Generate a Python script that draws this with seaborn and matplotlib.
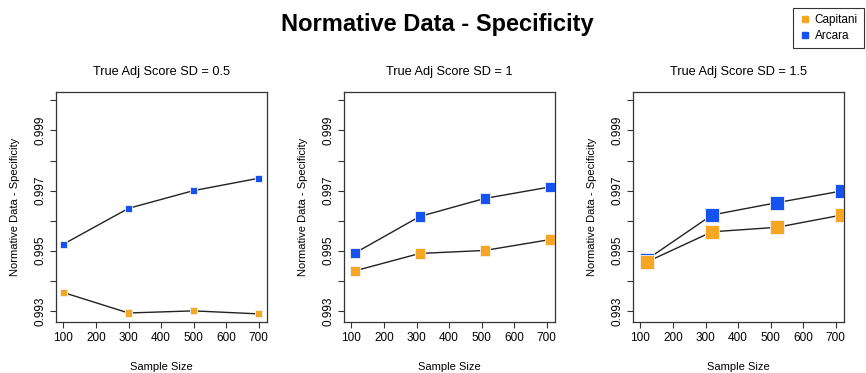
import matplotlib
matplotlib.use("Agg")
import matplotlib.pyplot as plt
import seaborn as sns
import pandas as pd
import numpy as np
from matplotlib.lines import Line2D

sns.set_theme(style="ticks")
plt.rcParams['font.family'] = ['Liberation Sans', 'DejaVu Sans']
plt.rcParams['text.color'] = 'black'
plt.rcParams['axes.labelcolor'] = 'black'
plt.rcParams['xtick.labelcolor'] = 'black'
plt.rcParams['ytick.labelcolor'] = 'black'

panel_titles = ["True Adj Score SD = 0.5", "True Adj Score SD = 1", "True Adj Score SD = 1.5"]
sample_sizes = [100, 300, 500, 700]
x_offsets = [0, 10, 20]
marker_sizes = [26, 55, 100]

capitani = [
    [0.99361, 0.99293, 0.99300, 0.99290],
    [0.99433, 0.99491, 0.99501, 0.99537],
    [0.99463, 0.99563, 0.99578, 0.99619],
]
arcara = [
    [0.99522, 0.99641, 0.99700, 0.99741],
    [0.99492, 0.99614, 0.99674, 0.99712],
    [0.99471, 0.99619, 0.99660, 0.99699],
]
series_names = ["Capitani", "Arcara"]
colors = {"Capitani": "#F5A623", "Arcara": "#1652F0"}

fig = plt.figure(figsize=(8.66, 3.73), dpi=100)
lefts = [56, 344, 633]
W, H = 866, 373
for i in range(3):
    ax = fig.add_axes([lefts[i] / W, (H - 322) / H, 211 / W, 230 / H])
    xs = [s + x_offsets[i] for s in sample_sizes]
    df = pd.DataFrame({
        "x": xs * 2,
        "y": arcara[i] + capitani[i],
        "series": ["Arcara"] * 4 + ["Capitani"] * 4,
    })
    for name in ["Arcara", "Capitani"]:
        sub = df[df.series == name]
        sns.lineplot(data=sub, x="x", y="y", ax=ax, color="#222222", lw=1.0,
                     estimator=None, sort=False, legend=False, zorder=1)
    sns.scatterplot(data=df, x="x", y="y", hue="series", palette=colors, marker="s",
                    s=marker_sizes[i], edgecolor="#f3f3f3", linewidth=0.6, ax=ax,
                    legend=False, zorder=3)
    ax.set_xlim(77, 726)
    ax.set_ylim(0.99263, 1.00028)
    ax.set_xticks([100, 200, 300, 400, 500, 600, 700])
    ax.set_xticklabels(["100", "200", "300", "400", "500", "600", "700"], fontsize=8.5)
    yt = [0.993, 0.994, 0.995, 0.996, 0.997, 0.998, 0.999, 1.000]
    ax.set_yticks(yt)
    ax.set_yticklabels(["0.993", "", "0.995", "", "0.997", "", "0.999", ""],
                       fontsize=8.5, rotation=90, va="center")
    ax.tick_params(axis="both", direction="out", length=4, width=0.8, color="#333333", pad=3)
    for sp in ax.spines.values():
        sp.set_color("#333333")
        sp.set_linewidth(0.9)
    ax.set_xlabel("Sample Size", fontsize=8, labelpad=13)
    ax.set_ylabel("Normative Data - Specificity", fontsize=8, labelpad=10)
    ax.set_title(panel_titles[i], fontsize=9.2, pad=12)

fig.text(437 / W, 1 - 25 / H, "Normative Data - Specificity", ha="center", va="center",
         fontsize=17, fontweight="bold", color="black")

handles = [Line2D([], [], marker="s", linestyle="none", color=colors[n], markersize=5) for n in series_names]
leg = fig.legend(handles, series_names, loc="upper right", bbox_to_anchor=(1.004, 0.995),
                 fontsize=8.5, frameon=True, fancybox=False, edgecolor="black",
                 handletextpad=0.3, borderpad=0.5, labelspacing=0.35, handlelength=1.0)
leg.get_frame().set_linewidth(0.8)

fig.savefig("out.png", dpi=100)
